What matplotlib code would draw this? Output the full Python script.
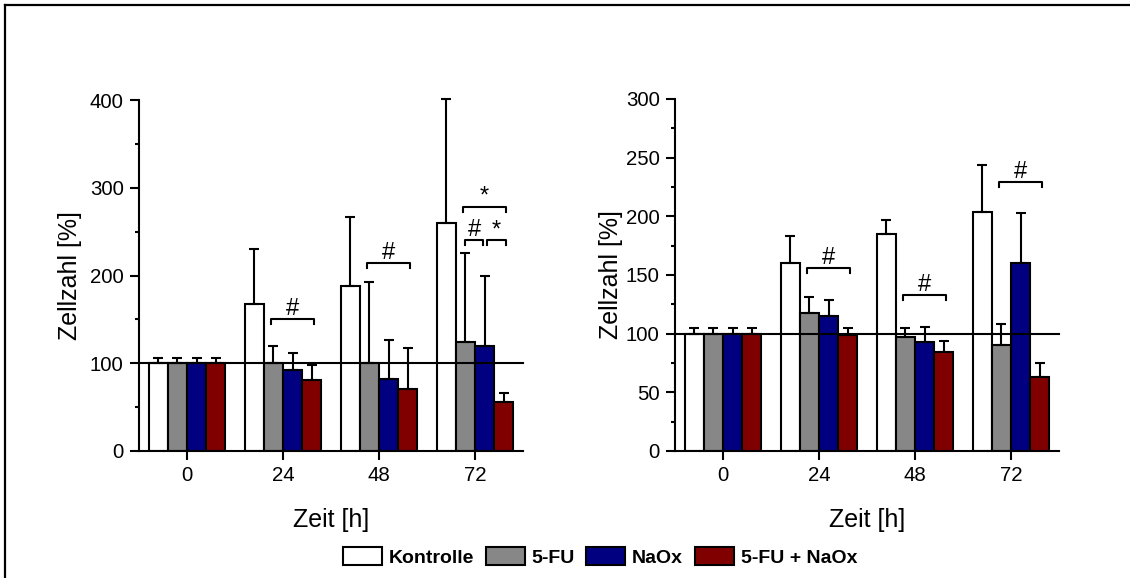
import numpy as np
import matplotlib
matplotlib.use("Agg")
from matplotlib import pyplot as plt
from matplotlib.patches import Patch
from matplotlib.lines import Line2D
from matplotlib.ticker import MultipleLocator

plt.rcParams['font.family'] = ['Liberation Sans', 'DejaVu Sans']

times = ['0', '24', '48', '72']
groups = ['Kontrolle', '5-FU', 'NaOx', '5-FU + NaOx']
colors = ['#ffffff', '#878787', '#000080', '#800000']

# left panel: means and upper SD
left_vals = {
    'Kontrolle':   [100, 168, 188, 260],
    '5-FU':        [100, 100, 100, 124],
    'NaOx':        [100, 92, 82, 120],
    '5-FU + NaOx': [100, 81, 71, 56],
}
left_err = {
    'Kontrolle':   [6, 62, 79, 141],
    '5-FU':        [6, 20, 93, 102],
    'NaOx':        [6, 20, 44, 79],
    '5-FU + NaOx': [6, 17, 46, 10],
}
# right panel
right_vals = {
    'Kontrolle':   [100, 160, 185, 204],
    '5-FU':        [100, 118, 97, 90],
    'NaOx':        [100, 115, 93, 160],
    '5-FU + NaOx': [100, 99, 84, 63],
}
right_err = {
    'Kontrolle':   [5, 23, 12, 40],
    '5-FU':        [5, 13, 8, 18],
    'NaOx':        [5, 14, 13, 43],
    '5-FU + NaOx': [5, 6, 10, 12],
}
# significance brackets: (time index, from bar, to bar, y, label)
left_sig = [(1, 1, 3, 150, '#'), (2, 1, 3, 214, '#'), (3, 1, 3, 278, '*'),
            (3, 1, 2, 240, '#'), (3, 2, 3, 240, '*')]
right_sig = [(1, 1, 3, 156, '#'), (2, 1, 3, 133, '#'), (3, 1, 3, 229, '#')]

W, H = 1130, 578
fig = plt.figure(figsize=(W / 100, H / 100), dpi=100)

width = 0.2
offsets = (np.arange(4) - 1.5) * width
lw = 1.5


def panel(ax, vals, errs, sig, ymax, major, minor, tick_h, ypad):
    x = np.arange(len(times))
    for i, g in enumerate(groups):
        ax.bar(x + offsets[i], vals[g], width, color=colors[i],
               edgecolor='black', linewidth=lw, zorder=2)
        eb = ax.errorbar(x + offsets[i], vals[g],
                         yerr=[np.zeros(len(times)), errs[g]],
                         fmt='none', ecolor='black', elinewidth=lw,
                         capsize=3.8, capthick=lw, zorder=3)
        for art in eb.lines[1] + eb.lines[2]:
            art.set_clip_on(False)
    ax.axhline(100, color='black', linewidth=lw, zorder=4, clip_on=False)
    for t, a, b, y, lab in sig:
        x1 = t + offsets[a] - 0.02
        x2 = t + offsets[b] + 0.02
        if b - a == 1:
            # adjacent brackets leave a small gap
            x1 = t + offsets[a] + (0.03 if a == 2 else 0.0)
            x2 = t + offsets[b] - (0.02 if b == 2 else -0.02)
        ax.plot([x1, x1, x2, x2], [y - tick_h, y, y, y - tick_h],
                color='black', linewidth=lw, zorder=5)
        ax.annotate(lab, ((x1 + x2) / 2, y), xytext=(0, 3),
                    textcoords='offset points', ha='center', va='baseline',
                    fontsize=17)
    ax.set_xlim(-0.5, 3.5)
    ax.set_ylim(0, ymax)
    ax.set_xticks(x)
    ax.set_xticklabels(times)
    ax.yaxis.set_major_locator(MultipleLocator(major))
    ax.yaxis.set_minor_locator(MultipleLocator(minor))
    for s in ['top', 'right']:
        ax.spines[s].set_visible(False)
    for s in ['left', 'bottom']:
        ax.spines[s].set_linewidth(lw)
    ax.tick_params(axis='both', which='major', direction='out', length=6.5,
                   width=lw, labelsize=14.7, pad=4.5)
    ax.tick_params(axis='y', which='minor', direction='out', length=3,
                   width=lw)
    ax.set_xlabel('Zeit [h]', fontsize=18, labelpad=16)
    ax.set_ylabel('Zellzahl [%]', fontsize=18, labelpad=ypad)


ax1 = fig.add_axes([139 / W, 1 - 451 / H, 384 / W, 351 / H])
panel(ax1, left_vals, left_err, left_sig, 400, 100, 50, 5.7, 6)

ax2 = fig.add_axes([675 / W, 1 - 451 / H, 384 / W, 352 / H])
panel(ax2, right_vals, right_err, right_sig, 300, 50, 25, 4.3, 2)

handles = [Patch(facecolor=c, edgecolor='black', linewidth=lw) for c in colors]
fig.legend(handles, groups, loc='center', bbox_to_anchor=(600 / W, 1 - 557 / H),
           ncol=4, frameon=False, prop={'weight': 'bold', 'size': 14},
           handlelength=2.0, handleheight=1.0, handletextpad=0.35,
           columnspacing=0.6)

# outer frame (cropped at right and bottom)
fig.add_artist(Line2D([5 / W, 1], [1 - 5 / H, 1 - 5 / H], color='black',
                      linewidth=1.6, transform=fig.transFigure))
fig.add_artist(Line2D([5 / W, 5 / W], [0, 1 - 5 / H], color='black',
                      linewidth=1.6, transform=fig.transFigure))

fig.savefig('out.png', dpi=100)
